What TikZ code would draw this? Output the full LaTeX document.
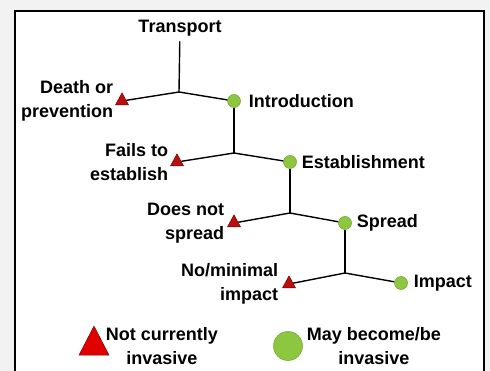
\documentclass[tikz,border=0pt]{standalone}
\usepackage{fontspec}
\setmainfont{Liberation Sans}
\usetikzlibrary{shapes.geometric,positioning}
\definecolor{trired}{HTML}{B81010}
\definecolor{triedge}{HTML}{7A0000}
\definecolor{legendred}{HTML}{E00000}
\definecolor{dotgreen}{HTML}{8DC63F}
\definecolor{dotedge}{HTML}{6E9E30}
\definecolor{pagegray}{HTML}{F2F2F2}

\begin{document}
\begin{tikzpicture}[x=1pt, y=-1pt, node distance=6pt]
        \tikzstyle{stage_tri} = [isosceles triangle, shape border rotate=90, isosceles triangle stretches, minimum width=13pt, minimum height=12pt, inner sep=0pt, draw=triedge, fill=trired, line width=0.5pt]
        \tikzstyle{stage_dot} = [circle, minimum size=13pt, inner sep=0pt, draw=dotedge, fill=dotgreen, line width=0.5pt]
        \tikzstyle{stage_text} = [inner sep=0pt, font=\bfseries\fontsize{18}{23.5}\selectfont, align=right]
        \tikzstyle{branch} = [draw, line width=1.4pt]

        % page and frame
        \useasboundingbox (0,0) rectangle (490,371);
        \clip (0,0) rectangle (490,371);
        \fill [pagegray] (0,0) rectangle (490,371);
        \draw [fill=white, line width=1.3pt] (15,11) rectangle (484,390);

        % junctions
        \coordinate (j1) at (179,92);
        \coordinate (j2) at (234,153);
        \coordinate (j3) at (290,213);
        \coordinate (j4) at (345,273);

        \node [stage_text, inner sep=5pt] (transport) at (180,28) {Transport};

        \node [stage_tri] (death_tri) at (122,101) {};
        \node [stage_dot] (intro_dot) at (234,101) {};
        \node [stage_tri] (fails_tri) at (177,162) {};
        \node [stage_dot] (estab_dot) at (290,162) {};
        \node [stage_tri] (nospread_tri) at (234,223) {};
        \node [stage_dot] (spread_dot) at (345,223) {};
        \node [stage_tri] (noimpact_tri) at (289,284) {};
        \node [stage_dot] (impact_dot) at (401,283) {};

        \node [stage_text, left=4pt of death_tri] (death_text) {Death or\\prevention};
        \node [stage_text, right=8pt of intro_dot] (intro_text) {Introduction};
        \node [stage_text, left=4pt of fails_tri] (fails_text) {Fails to\\establish};
        \node [stage_text, right=5pt of estab_dot] (estab_text) {Establishment};
        \node [stage_text, left=5pt of nospread_tri] (nospread_text) {Does not\\spread};
        \node [stage_text, right=5pt of spread_dot] (spread_text) {Spread};
        \node [stage_text, left=6pt of noimpact_tri] (noimpact_text) {No/minimal\\impact};
        \node [stage_text, right=6pt of impact_dot] (impact_text) {Impact};

        \path [branch] (transport) -- (j1);
        \path [branch] (j1) -- (death_tri);
        \path [branch] (j1) -- (intro_dot);
        \path [branch] (intro_dot) -- (j2);
        \path [branch] (j2) -- (fails_tri);
        \path [branch] (j2) -- (estab_dot);
        \path [branch] (estab_dot) -- (j3);
        \path [branch] (j3) -- (nospread_tri);
        \path [branch] (j3) -- (spread_dot);
        \path [branch] (spread_dot) -- (j4);
        \path [branch] (j4) -- (noimpact_tri);
        \path [branch] (j4) -- (impact_dot);

        % legend
        \node [stage_tri, minimum width=30pt, minimum height=29pt, fill=legendred, draw=triedge] (legend_tri) at (94,346) {};
        \node [stage_dot, minimum size=29pt] (legend_dot) at (288,346) {};
        \node [stage_text, align=center, right=1pt of legend_tri] (legend_tri_text) {Not currently\\invasive};
        \node [stage_text, align=center, right=4pt of legend_dot] (legend_dot_text) {May become/be\\invasive};

    \end{tikzpicture}
\end{document}
